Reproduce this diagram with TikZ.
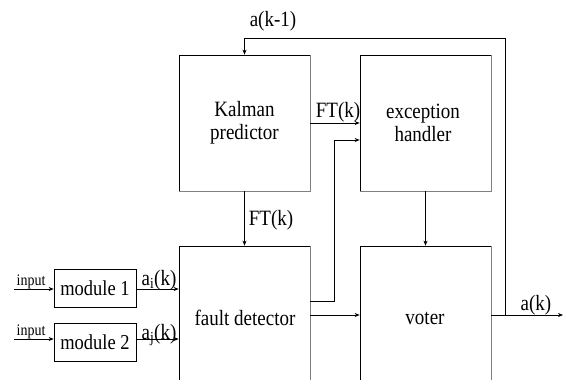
\documentclass[tikz,border=0pt]{standalone}
\usepackage{fontspec}
\setmainfont{Liberation Serif}
\usetikzlibrary{arrows.meta,calc}
\newcommand\vst[1]{\scalebox{1}[1.15]{#1}}
\begin{document}
\begin{tikzpicture}[x=1pt,y=-1pt,
  line width=0.7pt,
  arr/.style={-{Stealth[length=5pt,width=4pt]}},
  bigbox/.style={draw=black,minimum width=131pt,inner sep=0pt},
  modbox/.style={draw=black,minimum width=82pt,minimum height=38pt,inner sep=0pt,font=\fontsize{18.5}{20}\selectfont},
  txt/.style={font=\fontsize{19}{23}\selectfont,align=center,inner sep=0pt},
  small/.style={font=\fontsize{14}{16}\selectfont,inner sep=0pt},
  shade/.style={draw=black!50,line width=1.3pt}]
\useasboundingbox (0,0) rectangle (568,380);
\clip (0,0) rectangle (568,380);
% boxes
\node[bigbox,minimum height=136pt] (kal) at (244.5,123) {};
\node[bigbox,minimum height=136pt] (exc) at (425.5,123) {};
\node[bigbox,minimum height=180pt] (fd) at (244.5,336) {};
\node[bigbox,minimum height=180pt] (vot) at (425.5,336) {};
\foreach \b in {kal,exc,fd,vot}{
  \draw[shade] (\b.north east) -- (\b.south east) -- (\b.south west);
}
\node[txt] at (kal.center) {\vst{Kalman}\\\vst{predictor}};
\node[txt] at (423,123) {\vst{exception}\\\vst{handler}};
\node[txt] (fdt) at (245,318) {\vst{fault detector}};
\node[txt] (vott) at (425,318) {\vst{voter}};
\node[modbox] (m1) at (95,288) {\vst{module 1}};
\node[modbox] (m2) at (95,342) {\vst{module 2}};
% inputs
\coordinate (in1) at (14,289);
\coordinate (in2) at (14,339);
\draw[arr] (in1) -- (in1 -| m1.west);
\draw[arr] (in2) -- (in2 -| m2.west);
\node[small,anchor=base] at (31,285) {\vst{input}};
\node[small,anchor=base] at (31,335) {\vst{input}};
% module outputs
\draw[arr] (in1 -| m1.east) -- (in1 -| fd.west);
\draw[arr] (in2 -| m2.east) -- (in2 -| fd.west);
\node[txt,anchor=base] at (159,285) {\vst{a\textsubscript{i}(k)}};
\node[txt,anchor=base] at (159,339) {\vst{a\textsubscript{j}(k)}};
% Kalman -> fault detector
\draw[arr] (kal.south) -- (fd.north);
\node[txt,anchor=base] at (271,225) {\vst{FT(k)}};
% Kalman -> exception handler
\coordinate (ft) at (310,123);
\draw[arr] (ft -| kal.east) -- (ft -| exc.west);
\node[txt,anchor=base] at (338,117) {\vst{FT(k)}};
% fault detector -> exception handler
\coordinate (fe) at (334,301);
\coordinate (fe2) at (334,140);
\draw[arr] (fe -| fd.east) -- (fe) -- (fe2) -- (fe2 -| exc.west);
% fault detector -> voter
\coordinate (fv) at (310,315);
\draw[arr] (fv -| fd.east) -- (fv -| vot.west);
% exception -> voter
\draw[arr] (exc.south) -- (vot.north);
% output
\coordinate (out) at (563,315);
\coordinate (jn) at (505,315);
\draw[arr] (out -| vot.east) -- (out);
\node[txt,anchor=base] at (536,310) {\vst{a(k)}};
% feedback
\coordinate (fb) at (505,38);
\draw[arr] (jn) -- (fb) -- (fb -| kal.north) -- (kal.north);
\node[txt,anchor=base] at (273,26) {\vst{a(k-1)}};
\end{tikzpicture}
\end{document}
